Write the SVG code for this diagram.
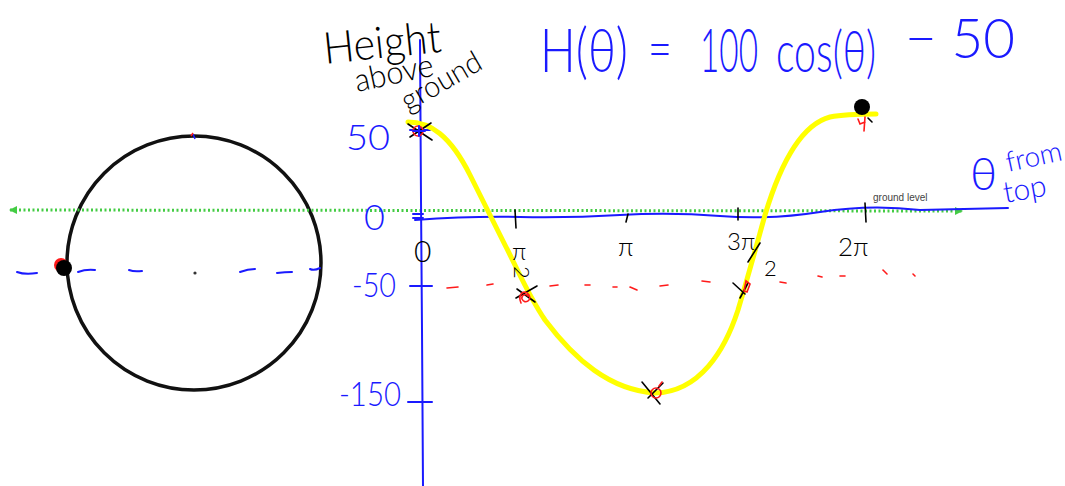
<svg xmlns="http://www.w3.org/2000/svg" width="1065" height="486" viewBox="0 0 1065 486">
<style>
.hb{font-family:Lato,"Liberation Sans",Arial,sans-serif;font-weight:300;fill:#1a1aff;}
.hk{font-family:Lato,"Liberation Sans",Arial,sans-serif;font-weight:300;fill:#000;}
.blue{stroke:#1a1aff;stroke-width:2;fill:none;stroke-linecap:round}
.blk{stroke:#000;stroke-width:1.6;fill:none;stroke-linecap:round}
.red{stroke:#ff1a1a;stroke-width:1.6;fill:none;stroke-linecap:round}
</style>
<defs>
<marker id="gl" markerWidth="8" markerHeight="8" refX="1" refY="4" orient="auto" markerUnits="userSpaceOnUse">
<path d="M8,0 L0,4 L8,8 Z" fill="#44cc44"/>
</marker>
<marker id="gr" markerWidth="8" markerHeight="8" refX="7" refY="4" orient="auto" markerUnits="userSpaceOnUse">
<path d="M0,0 L8,4 L0,8 Z" fill="#44cc44"/>
</marker>
</defs>
<rect width="1065" height="486" fill="#fff"/>

<!-- wheel -->
<g id="wheel">
<circle cx="194" cy="263" r="127" fill="none" stroke="#111" stroke-width="3.5"/>
<circle cx="195" cy="273" r="1.6" fill="#333"/>
<path d="M193,134 l2,5" stroke="#1a1aff" stroke-width="1.5"/>
<path d="M191,136 l2,-3" stroke="#ff1a1a" stroke-width="1.5"/>
<circle cx="61" cy="265" r="7" fill="#ff1a1a"/>
<circle cx="64" cy="268" r="8" fill="#000"/>
</g>

<!-- ground line -->
<g id="ground-line">
<line x1="10" y1="210" x2="962" y2="211" stroke="#44cc44" stroke-width="3" stroke-dasharray="2,2.5" marker-start="url(#gl)" marker-end="url(#gr)"/>
<text x="873" y="201" font-family="Liberation Sans,Arial,sans-serif" font-size="10" fill="#444">ground level</text>
</g>

<!-- blue dashed level line -->
<g id="level-dash" class="blue">
<path d="M17,272 q8,3 20,1"/>
<path d="M78,272 q8,-3 17,-2"/>
<path d="M129,270 q5,2 13,1"/>
<path d="M240,272 q8,-3 15,-3"/>
<path d="M277,273 q8,-1 15,-1"/>
<path d="M310,269 q4,2 10,-1"/>
</g>

<!-- axes -->
<g id="axes">
<path class="blue" d="M420,40 L421,200 L422,330 L423,486"/>
<path class="blue" d="M415,220 Q470,216 520,217 T620,215 T720,216 T820,212 T920,210 L1008,208"/>
<path class="blue" d="M410,130 L430,130"/>
<path class="blue" d="M413,214 L423,214 M413,218 L423,218"/>
<path class="blue" d="M410,286 L432,286"/>
<path class="blue" d="M408,402 L432,402"/>
<path class="blk" d="M515,210 L516,228 M628,214 L626,222 M738,208 L738,220 M865,203 L866,222"/>
</g>

<!-- red dashed -50 line -->
<g id="red-dash" class="red">
<path d="M447,288 L458,287"/>
<path d="M487,285 L493,284"/>
<path d="M550,286 L558,285"/>
<path d="M585,285 L590,285"/>
<path d="M613,287 L617,287"/>
<path d="M630,287 L637,290"/>
<path d="M660,286 L668,285"/>
<path d="M702,281 L710,282"/>
<path d="M780,282 L786,283"/>
<path d="M818,276 L822,277"/>
<path d="M840,276 L845,276"/>
<path d="M883,270 L887,274"/>
<path d="M913,274 L915,276"/>
</g>

<!-- yellow curve -->
<g id="curve">
<path d="M408,122 C430,122 450,135 470,175 C480,195 490,215 505,245 C518,270 528,295 545,320 C575,360 610,390 655,393 C700,392 725,350 738,310 C750,270 758,240 765,215 C780,165 800,125 830,117 C845,114 860,114 876,114" fill="none" stroke="#ffff00" stroke-width="5" stroke-linecap="round"/>
</g>

<!-- point markers -->
<g id="markers">
<path class="blk" d="M408,124 L432,140 M431,123 L410,137"/>
<circle cx="418" cy="131" r="5" fill="none" stroke="#ff1a1a" stroke-width="1.6"/>
<path class="blue" d="M413,131 L425,131 M419,126 L419,136"/>
<path class="blk" d="M516,298 L537,286 M517,289 L535,302"/>
<path class="red" d="M521,303 c-4,-10 4,-14 8,-8 c3,5 -4,10 -7,4 c-1,-4 4,-6 6,-3"/>
<path class="blk" d="M733,283 L745,294 M740,298 L748,283"/>
<path class="red" d="M746,281 l4,3 l-3,8 l-3,-1 z"/>
<path class="blk" d="M642,382 L660,404 M663,383 L648,398"/>
<circle cx="656" cy="393" r="5" fill="none" stroke="#ff1a1a" stroke-width="1.6"/>
<path class="red" d="M659,386 l3,-4"/>
<circle cx="862" cy="107" r="8" fill="#000"/>
<path class="red" d="M858,119 l2,5 l5,-2 M865,117 l-1,14"/>
<path class="blk" d="M868,118 l4,4"/>
</g>

<!-- y labels -->
<g id="y-labels">
<text class="hb" x="346" y="150" font-size="36" textLength="44" lengthAdjust="spacingAndGlyphs">50</text>
<text class="hb" x="364" y="230" font-size="36">0</text>
<text class="hb" x="352" y="297" font-size="34" textLength="44" lengthAdjust="spacingAndGlyphs">-50</text>
<text class="hb" x="339" y="406" font-size="34" textLength="62" lengthAdjust="spacingAndGlyphs">-150</text>
</g>

<!-- x labels -->
<g id="x-labels">
<text class="hk" x="414" y="262" font-size="30">0</text>
<text class="hk" x="512" y="260" font-size="24">π</text>
<text class="hk" font-size="22" transform="translate(514,266) rotate(90)">2</text>
<text class="hk" x="618" y="256" font-size="26">π</text>
<text class="hk" x="727" y="250" font-size="24">3π</text>
<path class="blk" d="M760,243 L748,262"/>
<text class="hk" x="764" y="276" font-size="22">2</text>
<text class="hk" x="838" y="256" font-size="26">2π</text>
</g>

<!-- axis title -->
<g id="axis-title">
<text class="hk" font-size="44" transform="translate(325,64) rotate(-6)" textLength="118" lengthAdjust="spacingAndGlyphs">Height</text>
<text class="hk" font-size="32" transform="translate(357,92) rotate(-12)" textLength="80" lengthAdjust="spacingAndGlyphs">above</text>
<text class="hk" font-size="30" transform="translate(408,112) rotate(-30)" textLength="88" lengthAdjust="spacingAndGlyphs">ground</text>
</g>

<!-- formula -->
<g id="formula">
<text class="hb" x="540" y="72" font-size="62" textLength="88" lengthAdjust="spacingAndGlyphs">H(θ)</text>
<text class="hb" x="648" y="68" font-size="56" textLength="24" lengthAdjust="spacingAndGlyphs">=</text>
<text class="hb" x="700" y="72" font-size="62" textLength="58" lengthAdjust="spacingAndGlyphs">100</text>
<text class="hb" x="776" y="72" font-size="58" textLength="100" lengthAdjust="spacingAndGlyphs">cos(θ)</text>
<text class="hb" x="905" y="58" font-size="56" textLength="110" lengthAdjust="spacingAndGlyphs">− 50</text>
</g>

<!-- theta from top -->
<g id="theta-note">
<text class="hb" x="970" y="190" font-size="46">θ</text>
<text class="hb" font-size="28" transform="translate(1008,172) rotate(-12)">from</text>
<text class="hb" font-size="30" transform="translate(1005,203) rotate(-10)">top</text>
</g>
</svg>
